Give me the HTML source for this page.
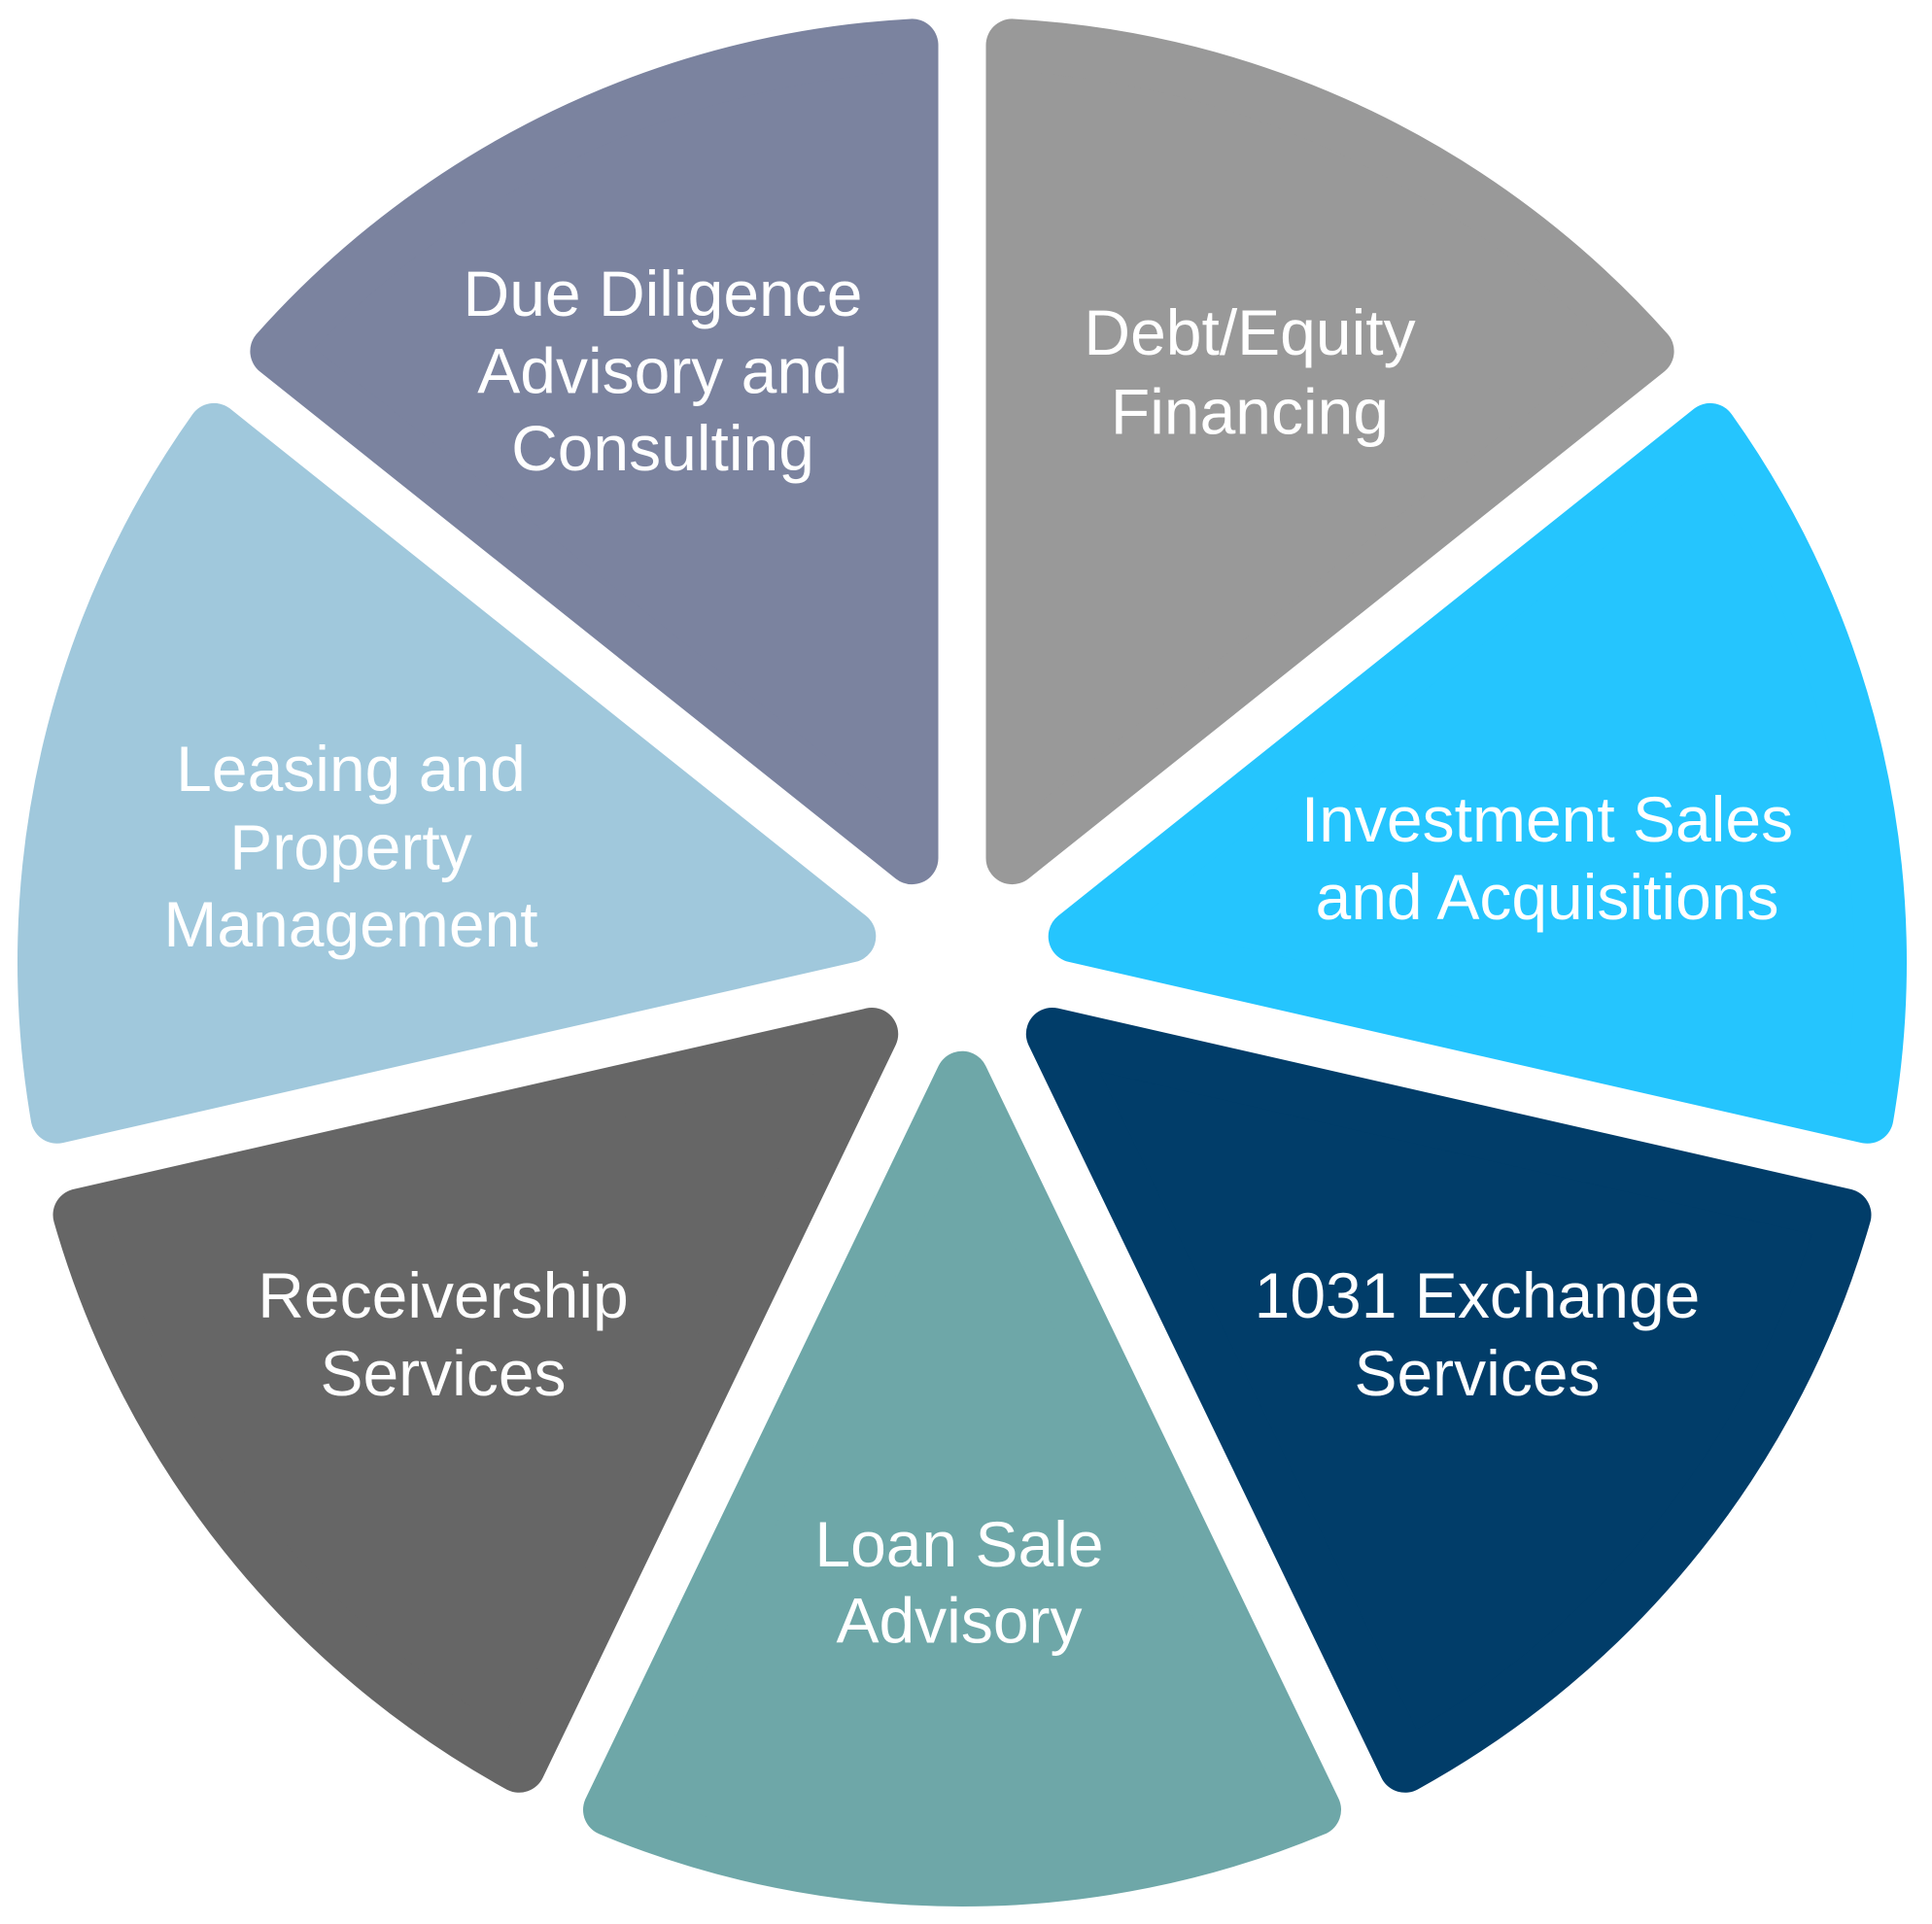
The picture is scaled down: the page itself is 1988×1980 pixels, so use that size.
<!DOCTYPE html>
<html>
<head>
<meta charset="utf-8">
<style>
  html, body { margin: 0; padding: 0; background: #ffffff; }
  svg { display: block; }
  text { font-family: "Liberation Sans", Arial, sans-serif; font-size: 66px; fill: #ffffff; text-anchor: middle; }
</style>
</head>
<body>
<svg width="1988" height="1980" viewBox="0 0 1988 1980" xmlns="http://www.w3.org/2000/svg">
  <g stroke-width="54" stroke-linejoin="round">
    <!-- Debt/Equity -->
    <path d="M1041.5,883.1 L1041.5,46.4 A945,945 0 0 1 1695.6,361.4 Z" fill="#999999" stroke="#999999"/>
    <!-- Investment Sales -->
    <path d="M1105.7,963.6 L1759.8,441.9 A945,945 0 0 1 1921.4,1149.8 Z" fill="#25C5FE" stroke="#25C5FE"/>
    <!-- 1031 Exchange -->
    <path d="M1082.8,1064.0 L1898.5,1250.2 A945,945 0 0 1 1445.8,1817.8 Z" fill="#013D69" stroke="#013D69"/>
    <!-- Loan Sale -->
    <path d="M990,1108.7 L1353.0,1862.5 A945,945 0 0 1 627.0,1862.5 Z" fill="#6EA7A8" stroke="#6EA7A8"/>
    <!-- Receivership -->
    <path d="M897.2,1064.0 L534.2,1817.8 A945,945 0 0 1 81.5,1250.2 Z" fill="#666666" stroke="#666666"/>
    <!-- Leasing -->
    <path d="M874.3,963.6 L58.6,1149.8 A945,945 0 0 1 220.2,441.9 Z" fill="#A0C8DC" stroke="#A0C8DC"/>
    <!-- Due Diligence -->
    <path d="M938.5,883.1 L284.4,361.4 A945,945 0 0 1 938.5,46.4 Z" fill="#7B839F" stroke="#7B839F"/>
  </g>

  <text x="682" y="325">Due Diligence</text>
  <text x="682" y="404.5">Advisory and</text>
  <text x="682" y="484">Consulting</text>

  <text x="1286" y="365">Debt/Equity</text>
  <text x="1286" y="446.5">Financing</text>

  <text x="1592" y="866">Investment Sales</text>
  <text x="1592" y="946">and Acquisitions</text>

  <text x="1520" y="1356">1031 Exchange</text>
  <text x="1520" y="1436">Services</text>

  <text x="987" y="1612">Loan Sale</text>
  <text x="987" y="1690.5">Advisory</text>

  <text x="456" y="1356">Receivership</text>
  <text x="456" y="1436">Services</text>

  <text x="361" y="814">Leasing and</text>
  <text x="361" y="894.5">Property</text>
  <text x="361" y="974">Management</text>
</svg>
</body>
</html>
